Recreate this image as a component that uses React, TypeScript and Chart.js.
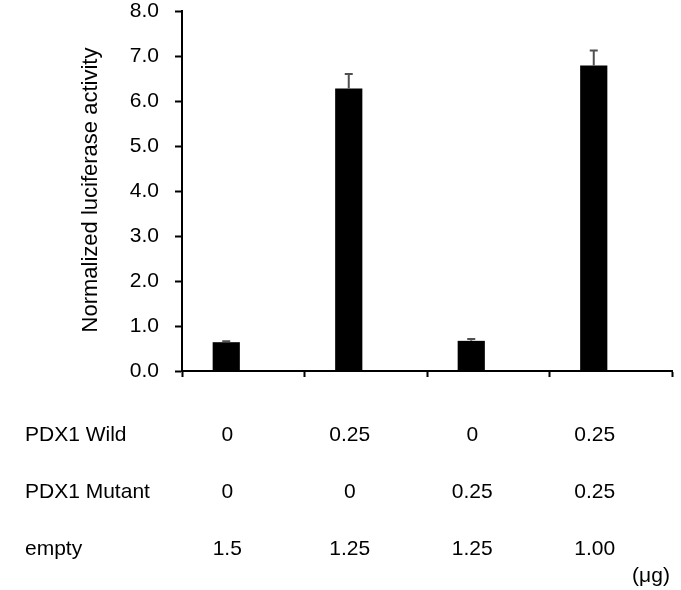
import React, { useEffect, useRef } from "react";
import { Chart, registerables } from "chart.js";

Chart.register(...registerables);

const categories = ["A", "B", "C", "D"];
const activity = [0.64, 6.28, 0.67, 6.79];
const errorsUp = [0.02, 0.32, 0.04, 0.33];
const yTicks = [0, 1, 2, 3, 4, 5, 6, 7, 8];
const rowLabels = ["PDX1 Wild", "PDX1 Mutant", "empty"];
const wildAmounts = ["0", "0.25", "0", "0.25"];
const mutantAmounts = ["0", "0", "0.25", "0.25"];
const emptyAmounts = ["1.5", "1.25", "1.25", "1.00"];
const unitLabel = "(μg)";
const yTitle = "Normalized luciferase activity";

const FONT = "'Liberation Sans', Arial, sans-serif";

const overlayPlugin = {
  id: "overlay",
  afterDatasetsDraw(chart: any) {
    const ctx = chart.ctx;
    const meta = chart.getDatasetMeta(0);
    const yScale = chart.scales.y;
    ctx.save();
    // error bars
    ctx.strokeStyle = "#505050";
    ctx.lineWidth = 2;
    meta.data.forEach((bar: any, i: number) => {
      const top = yScale.getPixelForValue(activity[i] + errorsUp[i]);
      const base = yScale.getPixelForValue(activity[i]);
      ctx.beginPath();
      ctx.moveTo(bar.x, base);
      ctx.lineTo(bar.x, top);
      ctx.moveTo(bar.x - 4, top);
      ctx.lineTo(bar.x + 4, top);
      ctx.stroke();
    });
    // y title
    ctx.fillStyle = "#000";
    ctx.font = `22px ${FONT}`;
    ctx.textAlign = "center";
    ctx.textBaseline = "middle";
    ctx.save();
    ctx.translate(91, 190);
    ctx.rotate(-Math.PI / 2);
    ctx.fillText(yTitle, 0, 0);
    ctx.restore();
    // table
    ctx.font = `21px ${FONT}`;
    const rows = [wildAmounts, mutantAmounts, emptyAmounts];
    const rowY = [435, 492, 549];
    rows.forEach((vals, r) => {
      ctx.textAlign = "left";
      ctx.fillText(rowLabels[r], 25, rowY[r]);
      ctx.textAlign = "center";
      vals.forEach((v, i) => {
        const x = meta.data[i].x + 1;
        ctx.fillText(v, x, rowY[r]);
      });
    });
    ctx.textAlign = "center";
    ctx.fillText(unitLabel, 651, 576);
    ctx.restore();
  },
};

export default function App() {
  const ref = useRef<HTMLCanvasElement>(null);
  useEffect(() => {
    if (!ref.current) return;
    const chart = new Chart(ref.current, {
      type: "bar",
      data: {
        labels: categories,
        datasets: [
          {
            data: activity,
            backgroundColor: "#000",
            borderWidth: 0,
            categoryPercentage: 0.555,
            barPercentage: 0.8,
          },
          {
            data: categories.map(() => null),
            backgroundColor: "#000",
            categoryPercentage: 0.555,
            barPercentage: 0.8,
          },
        ],
      },
      options: {
        responsive: false,
        animation: false,
        layout: { padding: { left: 0, top: 0, right: 9, bottom: 0 } },
        plugins: { legend: { display: false }, tooltip: { enabled: false } },
        scales: {
          x: {
            grid: {
              display: true,
              drawOnChartArea: false,
              drawTicks: true,
              tickLength: 6,
              tickColor: "#000",
              tickWidth: 2,
              offset: true,
            },
            border: { color: "#000", width: 2 },
            ticks: { display: false },
            afterFit: (s: any) => {
              s.height = 590 - 371;
            },
          },
          y: {
            min: 0,
            max: 8,
            afterBuildTicks: (s: any) => {
              s.ticks = yTicks.map((v) => ({ value: v }));
            },
            afterFit: (s: any) => {
              s.width = 182;
              s.paddingTop = 11;
              s.paddingBottom = 0;
            },
            grid: {
              display: true,
              drawOnChartArea: false,
              drawTicks: true,
              tickLength: 7,
              tickColor: "#000",
              tickWidth: 2,
            },
            border: { color: "#000", width: 2 },
            ticks: {
              color: "#000",
              padding: 16,
              font: { family: FONT, size: 21 },
              callback: (v: any) => Number(v).toFixed(1),
            },
          },
        },
      },
      plugins: [overlayPlugin],
    });
    return () => chart.destroy();
  }, []);
  return (
    <div style={{ position: "absolute", left: 0, top: 0, width: 681, height: 590, background: "#fff" }}>
      <canvas ref={ref} width={681} height={590} />
    </div>
  );
}
